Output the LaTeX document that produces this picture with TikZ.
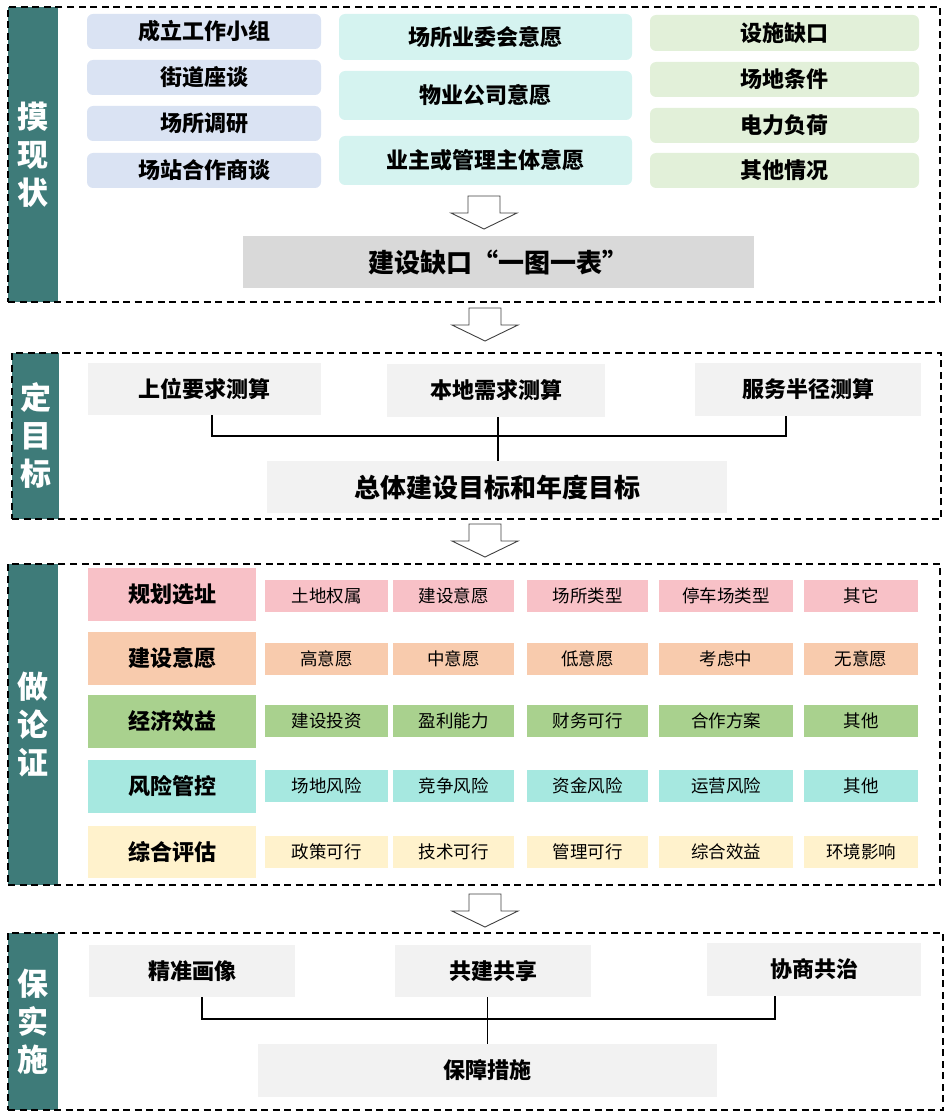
\documentclass[tikz,border=0pt]{standalone}
\usepackage{fontspec}
\setmainfont{Noto Sans CJK SC}

\definecolor{barteal}{RGB}{62,123,121}
\definecolor{lilac}{RGB}{218,227,243}
\definecolor{aqua}{RGB}{213,243,240}
\definecolor{sage}{RGB}{226,240,217}
\definecolor{gapgray}{RGB}{217,217,217}
\definecolor{palegray}{RGB}{242,242,242}
\definecolor{rose}{RGB}{248,193,199}
\definecolor{peach}{RGB}{248,203,173}
\definecolor{leaf}{RGB}{169,209,142}
\definecolor{mint}{RGB}{166,232,224}
\definecolor{cream}{RGB}{255,242,204}

\begin{document}
\begin{tikzpicture}[x=1pt, y=-1pt,
	frame/.style={draw=black, line width=1.8pt, dash pattern=on 7pt off 4.5pt, inner sep=0pt},
	bar/.style={fill=barteal, text=white, inner sep=0pt, align=center, font=\fontsize{31}{38}\selectfont\bfseries},
	soft/.style={rounded corners=6pt, inner sep=0pt, font=\fontsize{22}{24}\selectfont\bfseries},
	flat/.style={inner sep=0pt, font=\fontsize{22}{24}\selectfont\bfseries},
	item/.style={inner sep=0pt, minimum height=32pt, font=\fontsize{17.5}{20}\selectfont},
	bracket/.style={line width=1.6pt},
	downarrow/.pic={\draw[draw=black!75, line width=0.9pt, fill=white] (-16,0) -- (16,0) -- (16,17) -- (33,17) -- (0,33) -- (-33,17) -- (-16,17) -- cycle;}]
	\useasboundingbox (0,0) rectangle (947,1118);

	% 摸现状
	\node[bar, minimum width=50pt, minimum height=295pt] (lab1) at (33,154.5) {摸\\现\\状};
	\node[frame, minimum width=932pt, minimum height=295pt] (sec1) at (474,154.5) {};
	\node[soft, fill=lilac, minimum width=234pt, minimum height=35pt] (team) at (204,31.5) {成立工作小组};
	\node[soft, fill=lilac, minimum width=234pt, minimum height=35pt] (street) at (204,77.5) {街道座谈};
	\node[soft, fill=lilac, minimum width=234pt, minimum height=35pt] (survey) at (204,123.5) {场所调研};
	\node[soft, fill=lilac, minimum width=234pt, minimum height=35pt] (talks) at (204,170.5) {场站合作商谈};
	\node[soft, fill=aqua, minimum width=293pt, minimum height=46pt] (owners) at (485.5,37) {场所业委会意愿};
	\node[soft, fill=aqua, minimum width=293pt, minimum height=49pt] (estate) at (485.5,95.5) {物业公司意愿};
	\node[soft, fill=aqua, minimum width=293pt, minimum height=49pt] (manager) at (485.5,160.5) {业主或管理主体意愿};
	\node[soft, fill=sage, minimum width=269pt, minimum height=36pt] (lack) at (784.5,33) {设施缺口};
	\node[soft, fill=sage, minimum width=269pt, minimum height=35pt] (site) at (784.5,79.5) {场地条件};
	\node[soft, fill=sage, minimum width=269pt, minimum height=35pt] (power) at (784.5,125.5) {电力负荷};
	\node[soft, fill=sage, minimum width=269pt, minimum height=35pt] (other) at (784.5,170.5) {其他情况};
	\pic at (484,196) {downarrow};
	\node[flat, fill=gapgray, minimum width=511pt, minimum height=52pt, font=\fontsize{26}{28}\selectfont\bfseries] (gap) at (498.5,262) {建设缺口“一图一表”};

	\pic at (485,308) {downarrow};

	% 定目标
	\node[bar, minimum width=47pt, minimum height=166pt] (lab2) at (35.5,436) {定\\目\\标};
	\node[frame, minimum width=929pt, minimum height=166pt] (sec2) at (476.5,436) {};
	\node[flat, fill=palegray, minimum width=233pt, minimum height=52pt] (upper) at (204.5,389) {上位要求测算};
	\node[flat, fill=palegray, minimum width=218pt, minimum height=53pt] (local) at (496,390.5) {本地需求测算};
	\node[flat, fill=palegray, minimum width=226pt, minimum height=53pt] (radius) at (808,389.5) {服务半径测算};
	\node[flat, fill=palegray, minimum width=460pt, minimum height=52pt, font=\fontsize{26}{28}\selectfont\bfseries] (target) at (497,487) {总体建设目标和年度目标};
	\draw[bracket] ([xshift=7.5pt]upper.south) -- ++(0,21) -| ([xshift=-22pt]radius.south);
	\draw[bracket] ([xshift=2pt]local.south) -- ([xshift=2pt]local.south |- target.north);

	\pic at (485,524) {downarrow};

	% 做论证
	\node[bar, minimum width=50pt, minimum height=321pt] (lab3) at (33,724.5) {做\\论\\证};
	\node[frame, minimum width=932pt, minimum height=321pt] (sec3) at (474,724.5) {};
	\node[flat, fill=rose, minimum width=168pt, minimum height=53pt] (plan) at (172,594.5) {规划选址};
	\node[flat, fill=peach, minimum width=168pt, minimum height=53pt] (will) at (172,658.5) {建设意愿};
	\node[flat, fill=leaf, minimum width=168pt, minimum height=53pt] (econ) at (172,721.5) {经济效益};
	\node[flat, fill=mint, minimum width=168pt, minimum height=53pt] (risk) at (172,786.5) {风险管控};
	\node[flat, fill=cream, minimum width=168pt, minimum height=52pt] (eval) at (172,852) {综合评估};

	\node[item, fill=rose, minimum width=123pt] (plan1) at (326.5,595.5) {土地权属};
	\node[item, fill=rose, minimum width=121pt] (plan2) at (453.5,595.5) {建设意愿};
	\node[item, fill=rose, minimum width=121pt] (plan3) at (587.5,595.5) {场所类型};
	\node[item, fill=rose, minimum width=134pt] (plan4) at (726,595.5) {停车场类型};
	\node[item, fill=rose, minimum width=114pt] (plan5) at (861,595.5) {其它};

	\node[item, fill=peach, minimum width=123pt] (will1) at (326.5,659) {高意愿};
	\node[item, fill=peach, minimum width=121pt] (will2) at (453.5,659) {中意愿};
	\node[item, fill=peach, minimum width=121pt] (will3) at (587.5,659) {低意愿};
	\node[item, fill=peach, minimum width=134pt] (will4) at (726,659) {考虑中};
	\node[item, fill=peach, minimum width=114pt] (will5) at (861,659) {无意愿};

	\node[item, fill=leaf, minimum width=123pt] (econ1) at (326.5,721) {建设投资};
	\node[item, fill=leaf, minimum width=121pt] (econ2) at (453.5,721) {盈利能力};
	\node[item, fill=leaf, minimum width=121pt] (econ3) at (587.5,721) {财务可行};
	\node[item, fill=leaf, minimum width=134pt] (econ4) at (726,721) {合作方案};
	\node[item, fill=leaf, minimum width=114pt] (econ5) at (861,721) {其他};

	\node[item, fill=mint, minimum width=123pt] (risk1) at (326.5,786) {场地风险};
	\node[item, fill=mint, minimum width=121pt] (risk2) at (453.5,786) {竞争风险};
	\node[item, fill=mint, minimum width=121pt] (risk3) at (587.5,786) {资金风险};
	\node[item, fill=mint, minimum width=134pt] (risk4) at (726,786) {运营风险};
	\node[item, fill=mint, minimum width=114pt] (risk5) at (861,786) {其他};

	\node[item, fill=cream, minimum width=123pt] (eval1) at (326.5,851.5) {政策可行};
	\node[item, fill=cream, minimum width=121pt] (eval2) at (453.5,851.5) {技术可行};
	\node[item, fill=cream, minimum width=121pt] (eval3) at (587.5,851.5) {管理可行};
	\node[item, fill=cream, minimum width=134pt] (eval4) at (726,851.5) {综合效益};
	\node[item, fill=cream, minimum width=114pt] (eval5) at (861,851.5) {环境影响};

	\pic at (485,894) {downarrow};

	% 保实施
	\node[bar, minimum width=50pt, minimum height=177pt] (lab4) at (33,1021.5) {保\\实\\施};
	\node[frame, minimum width=935pt, minimum height=177pt] (sec4) at (475.5,1021.5) {};
	\node[flat, fill=palegray, minimum width=206pt, minimum height=52pt] (portrait) at (192,971) {精准画像};
	\node[flat, fill=palegray, minimum width=196pt, minimum height=52pt] (share) at (493,971) {共建共享};
	\node[flat, fill=palegray, minimum width=214pt, minimum height=53pt] (govern) at (814,969.5) {协商共治};
	\node[flat, fill=palegray, minimum width=459pt, minimum height=53pt] (measure) at (487.5,1070.5) {保障措施};
	\draw[bracket] ([xshift=10pt]portrait.south) -- ++(0,22) -| ([xshift=-39pt]govern.south);
	\draw[bracket] (measure.north) -- (measure.north |- share.south);
\end{tikzpicture}
\end{document}
